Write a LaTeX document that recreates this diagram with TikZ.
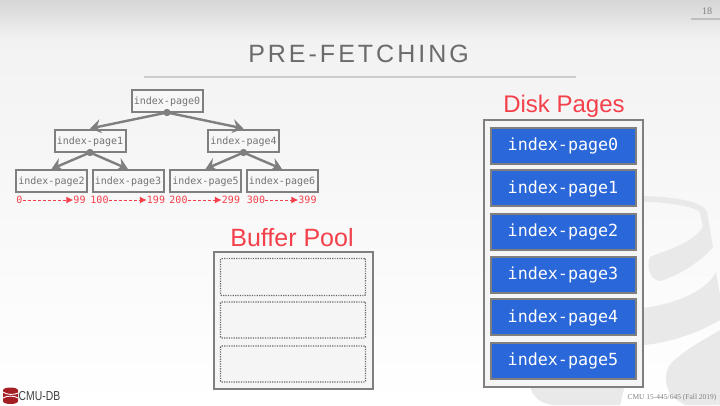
\documentclass[tikz,border=0pt]{standalone}
\usepackage{fontspec}
\setmainfont{Liberation Sans}
\newfontfamily\titlefont[LetterSpace=12]{Liberation Sans}
\newfontfamily\pagefont{DejaVu Sans Mono}
\newfontfamily\footfont{Liberation Serif}
\usepackage{tikz}
\usetikzlibrary{arrows.meta,calc,positioning}
\definecolor{ardilla}{HTML}{7F7F7F}
\definecolor{rojo}{HTML}{F4404A}
\definecolor{azul}{HTML}{2A67D8}
\definecolor{humo}{HTML}{E9E9E9}
\definecolor{granate}{HTML}{A31F24}
\tikzset{
  treepage/.style={draw=ardilla,line width=2pt,fill=black!3,text=black!55,minimum width=71pt,minimum height=22pt,inner sep=0pt,text depth=0pt,font=\pagefont\fontsize{10}{12}\selectfont},
  diskpage/.style={draw=ardilla,line width=2pt,fill=azul,text=white,minimum width=145pt,minimum height=36pt,inner sep=0pt,text depth=2pt,font=\pagefont\fontsize{16.7}{18}\selectfont},
  poolslot/.style={draw=black!60,dash pattern=on 1.2pt off 1.2pt,line width=1.4pt,rounded corners=1pt,fill=black!4,minimum width=145pt,inner sep=0pt},
  outerbox/.style={draw=ardilla,line width=2pt,fill=black!4,inner sep=0pt},
  treeedge/.style={-{Stealth[length=11pt,width=14pt,inset=4pt]},draw=ardilla,line width=2.4pt},
  rangelabel/.style={text=rojo,inner sep=0pt,font=\pagefont\fontsize{10}{12}\selectfont},
  rangearrow/.style={-{Latex[length=7pt,width=7pt]},rojo,densely dashed,line width=1pt},
  heading/.style={text=rojo,inner sep=0pt,font=\fontsize{24}{28}\selectfont},
}
\begin{document}
\begin{tikzpicture}[x=1pt,y=-1pt]
  \useasboundingbox (0,0) rectangle (720,405);
  % backdrop
  \fill[top color=black!16,bottom color=black!5] (0,0) rectangle (720,40);
  \fill[top color=black!5,bottom color=white] (0,40) rectangle (720,405);
  % cylinder behind the disk pages
  \fill[humo] (643,196) .. controls (680,197) and (705,203) .. (707,212) -- (713,247)
    .. controls (700,263) and (675,277) .. (660,281) .. controls (650,280) and (646,267) .. (650,257)
    .. controls (667,250) and (693,243) .. (703,227) -- (700,213)
    .. controls (697,207) and (670,202) .. (643,202) -- cycle;
  \fill[humo] (643,308) .. controls (680,303) and (707,290) .. (716,272) -- (720,295) -- (720,320)
    .. controls (700,332) and (670,343) .. (643,345) -- cycle;
  \fill[humo] (720,330) .. controls (700,342) and (690,347) .. (677,358)
    .. controls (662,368) and (664,385) .. (672,397) -- (685,405) -- (720,405) -- cycle;
  \fill[humo] (530,385) .. controls (532,397) and (540,403) .. (552,405) -- (620,405) -- (625,385) -- cycle;
  % title
  \node[text=black!58,inner sep=0pt,font=\titlefont\fontsize{25}{28}\selectfont] (title) at (358.5,54) {PRE-FETCHING};
  \draw[black!20,line width=1.2pt] (144,77) -- (576,77);
  \node[text=black!50,inner sep=0pt,font=\footfont\fontsize{10}{12}\selectfont] (slidenum) at (707,11) {18};
  \draw[black!25,line width=1.4pt] (691,19) -- (720,19);
  % tree
  \node[treepage] (root) at (167,100.5) {index-page0};
  \node[treepage] (left) at (90,140.5) {index-page1};
  \node[treepage] (right) at (243.5,140.5) {index-page4};
  \node[treepage] (leafa) at (51.5,181) {index-page2};
  \node[treepage] (leafb) at (128,181) {index-page3};
  \node[treepage] (leafc) at (205.5,181) {index-page5};
  \node[treepage] (leafd) at (282,181) {index-page6};
  \foreach \p/\c in {root/left,root/right,left/leafa,left/leafb,right/leafc,right/leafd}{
    \draw[treeedge] (\p.south) -- (\c.north);
    \fill[ardilla] (\p.south) circle (3.5pt);
  }
  % key ranges
  \foreach \n/\a/\ax/\b/\bx in {ra/0/19.5/99/79.5,rb/100/99.5/199/156,rc/200/178.5/299/231,rd/300/256/399/307.5}{
    \node[rangelabel] (\n a) at (\ax,200) {\a};
    \node[rangelabel] (\n b) at (\bx,200) {\b};
    \draw[rangearrow] (\n a) -- (\n b);
  }
  % buffer pool
  \node[heading,font=\fontsize{25}{28}\selectfont] (poolhead) at (292,238) {Buffer Pool};
  \node[outerbox,minimum width=159pt,minimum height=137pt] (pool) at (293,320) {};
  \foreach \i/\y/\h in {0/277/37,1/320/36,2/364/36}{
    \node[poolslot,minimum height=\h pt] (slot\i) at (293,\y) {};
  }
  % disk pages
  \node[heading] (diskhead) at (564,106) {Disk Pages};
  \node[outerbox,minimum width=159pt,minimum height=267pt] (disk) at (563,253) {};
  \foreach \i/\y in {0/145.5,1/188,2/231.5,3/274.5,4/317,5/360.5}{
    \node[diskpage] (page\i) at (563,\y) {index-page\i};
  }
  % footer
  \node[text=black!50,inner sep=0pt,font=\footfont\fontsize{7.5}{9}\selectfont] (course) at (672,398) {CMU 15-445/645 (Fall 2019)};
  \fill[granate] (3,390.5) .. controls (3,386.5) and (18,386.5) .. (18,390.5) -- (18,401) .. controls (18,405) and (3,405) .. (3,401) -- cycle;
  \draw[white,line width=0.9pt] (3,392) .. controls (6,395) and (15,395) .. (18,393);
  \draw[white,line width=0.9pt] (3,398) .. controls (6,395.5) and (15,395.5) .. (18,398);
  \node[text=black!75,inner sep=0pt,font=\fontsize{13}{15}\selectfont] (logo) at (39.5,396.5) {\scalebox{0.8}[1]{CMU-DB}};
\end{tikzpicture}
\end{document}
